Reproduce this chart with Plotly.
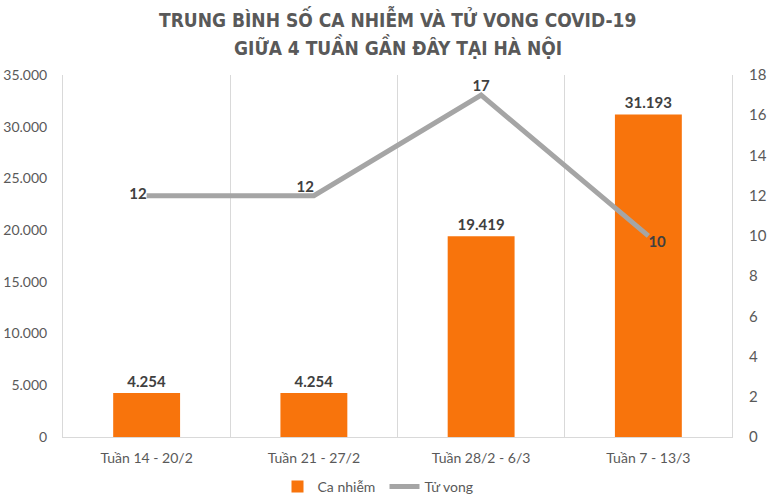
import plotly.graph_objects as go

categories = ["Tuần 14 - 20/2", "Tuần 21 - 27/2", "Tuần 28/2 - 6/3", "Tuần 7 - 13/3"]
ca_nhiem = [4254, 4254, 19419, 31193]
tu_vong = [12, 12, 17, 10]
title_lines = ["TRUNG BÌNH SỐ CA NHIỄM VÀ TỬ VONG COVID-19", "GIỮA 4 TUẦN GẦN ĐÂY TẠI HÀ NỘI"]

def fmt(v):
    return f"{v:,}".replace(",", ".")

ORANGE = "#F8740C"
GRAY = "#A5A5A5"
TXT = "#595959"
LBL = "#404040"
FONT = "Lato"

fig = go.Figure()
fig.add_trace(go.Bar(
    x=categories, y=ca_nhiem, name="Ca nhiễm",
    marker=dict(color=ORANGE, line=dict(width=0)),
    width=0.4,
    text=[fmt(v) for v in ca_nhiem], textposition="outside",
    textfont=dict(family=FONT, size=15, color=LBL, weight="bold"),
    cliponaxis=False,
))
fig.add_trace(go.Scatter(
    x=categories, y=tu_vong, name="Tử vong", yaxis="y2",
    mode="lines+text",
    line=dict(color=GRAY, width=5),
    text=[str(v) for v in tu_vong],
    textposition=["middle left", "top left", "top center", "bottom right"],
    textfont=dict(family=FONT, size=15, color=LBL, weight="bold"),
    cliponaxis=False,
))

for i, (line, yy) in enumerate(zip(title_lines, [18, 47])):
    fig.add_annotation(
        text=line, xref="paper", yref="paper", x=0.5, xanchor="center",
        y=(437 - yy) / 362, yanchor="middle", showarrow=False,
        font=dict(family="DejaVu Sans Condensed, Liberation Sans Narrow", size=19, color=TXT, weight="bold"),
    )

fig.update_layout(
    width=769, height=504,
    margin=dict(l=63, r=37, t=75, b=67, autoexpand=False),
    paper_bgcolor="white", plot_bgcolor="white",
    separators=",.",
    showlegend=True,
    legend=dict(orientation="h", x=0.5, xanchor="center", xref="container",
                y=(504 - 487) / 504, yanchor="middle", yref="container",
                font=dict(family=FONT, size=14, color=TXT), itemwidth=30,
                entrywidth=62, entrywidthmode="pixels",
                traceorder="normal"),
    xaxis=dict(
        type="category", tickson="boundaries", showgrid=True, gridcolor="#D9D9D9",
        showline=True, linecolor="#D9D9D9", ticks="",
        tickfont=dict(family=FONT, size=14, color=TXT), ticklabelstandoff=8,
    ),
    yaxis=dict(
        range=[0, 35000], dtick=5000, tickformat=",d", showgrid=False,
        showline=True, linecolor="#D9D9D9", zeroline=False,
        tickfont=dict(family=FONT, size=14, color=TXT), ticklabelstandoff=12,
    ),
    yaxis2=dict(
        range=[0, 18], dtick=2, overlaying="y", side="right", showgrid=False,
        showline=True, linecolor="#D9D9D9", zeroline=False,
        tickfont=dict(family=FONT, size=15, color=TXT), ticklabelstandoff=13,
    ),
)

fig.write_html("out.html")
